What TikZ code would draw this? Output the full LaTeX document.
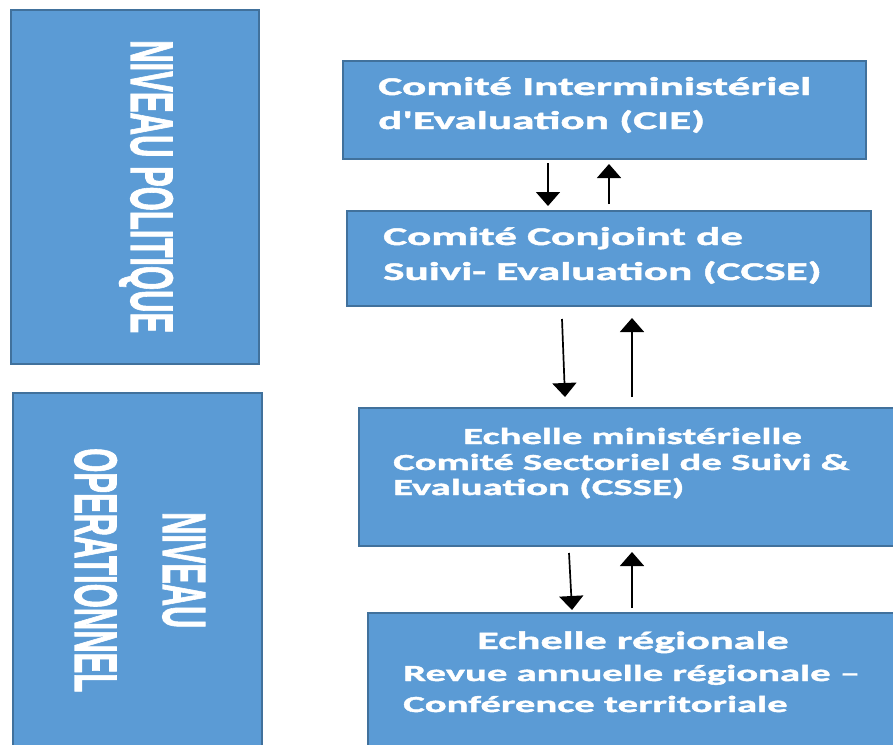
\documentclass[tikz,border=0pt]{standalone}
\usepackage{fontspec}
\usepackage{graphicx}
\usetikzlibrary{arrows.meta,calc}
\newfontfamily\boxfont[Ligatures=TeXOff,FakeStretch=1.77,BoldFeatures={FakeBold=1.8}]{Carlito}
\newfontfamily\sidefont[FakeBold=1.8]{Liberation Sans}
\definecolor{boxfill}{HTML}{5B9BD5}
\definecolor{boxline}{HTML}{41719C}
\tikzset{
  box/.style={rectangle, draw=boxline, fill=boxfill, line width=2pt, anchor=north west, inner sep=0pt, outer sep=0pt},
  txt/.style={anchor=base west, inner sep=0pt, text=white, font=\boxfont\bfseries},
  big/.style={font=\boxfont\bfseries\fontsize{25.5}{30}\selectfont},
  mid/.style={font=\boxfont\bfseries\fontsize{23}{28}\selectfont},
  side/.style={rotate=-90, anchor=base west, inner sep=0pt, text=white, font=\sidefont\bfseries\fontsize{30}{36}\selectfont},
  arr/.style={-{Triangle[width=24pt,length=14pt]}, line width=1.7pt, black}
}
\begin{document}
\begin{tikzpicture}[x=1pt,y=-1pt]
\useasboundingbox (0,0) rectangle (893,744);
\fill[white] (0,0) rectangle (893,744);
\clip (0,0) rectangle (893,744);

% left boxes
\node[box, minimum width=248pt, minimum height=354pt] (pol) at (11,10) {};
\node[box, minimum width=249pt, minimum height=380pt] (ope) at (13,393) {};
\node[side] (poltxt) at (131,40) {\resizebox{293pt}{42pt}{NIVEAU POLITIQUE}};
\node[side] (opetxta) at (163,512) {\resizebox{116pt}{42pt}{NIVEAU}};
\node[side] (opetxtb) at (75,448) {\resizebox{244pt}{42pt}{OPERATIONNEL}};

% right boxes
\node[box, minimum width=523pt, minimum height=98pt] (cie) at (343,61) {};
\node[box, minimum width=524pt, minimum height=95pt] (ccse) at (347,211) {};
\node[box, minimum width=560pt, minimum height=138pt] (csse) at (359,408) {};
\node[box, minimum width=560pt, minimum height=160pt] (reg) at (368,613) {};

% texts
\node[txt, big] (cie1) at (378,95) {Comité Interministériel};
\node[txt, big] (cie2) at (378,129) {d'Evaluation (CIE)};
\node[txt, big] (ccse1) at (383,245) {Comité Conjoint de};
\node[txt, big] (ccse2) at (383,280) {Suivi- Evaluation (CCSE)};
\node[txt, mid] (csse1) at (463,444) {Echelle ministérielle};
\node[txt, mid] (csse2) at (393,470) {Comité Sectoriel de Suivi \&};
\node[txt, mid] (csse3) at (393,495) {Evaluation (CSSE)};
\node[txt, big, font=\boxfont\bfseries\fontsize{25}{30}\selectfont] (reg1) at (477,649) {Echelle régionale};
\node[txt, mid] (reg2) at (403,681) {Revue annuelle régionale –};
\node[txt, mid] (reg3) at (403,712) {Conférence territoriale};

% arrows
\draw[arr] ($(cie.south west)+(205,4)$) -- ($(ccse.north west)+(201,-5)$);
\draw[arr] ($(ccse.north west)+(262,-7)$) -- ($(cie.south west)+(266,5)$);
\draw[arr] ($(ccse.south west)+(215,13)$) -- ($(csse.north west)+(206,-11)$);
\draw[arr] ($(csse.north west)+(273,-11)$) -- ($(ccse.south west)+(285,12)$);
\draw[arr] ($(csse.south west)+(210,7)$) -- ($(reg.north west)+(204,-3)$);
\draw[arr] ($(reg.north west)+(264,-5)$) -- ($(csse.south west)+(273,6)$);
\end{tikzpicture}
\end{document}
